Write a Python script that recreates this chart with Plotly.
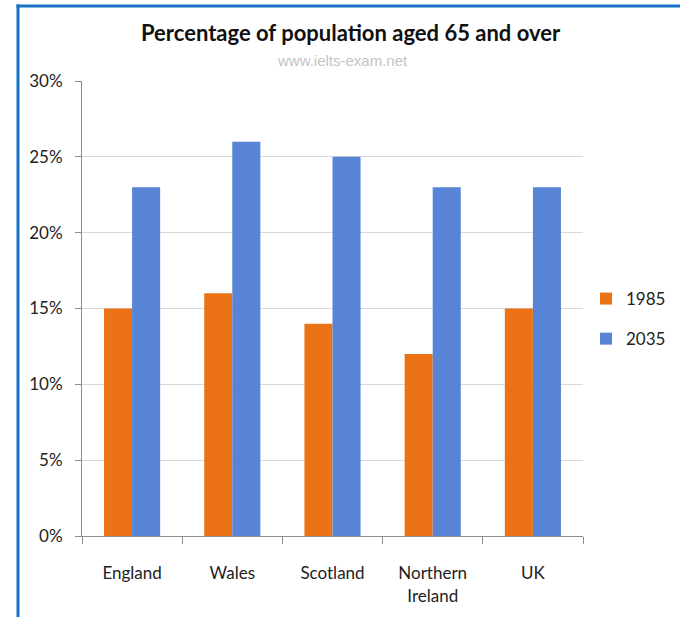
import plotly.graph_objects as go

categories = ["England", "Wales", "Scotland", "Northern<br>Ireland", "UK"]
values_1985 = [15, 16, 14, 12, 15]
values_2035 = [23, 26, 25, 23, 23]
y_ticks = [0, 5, 10, 15, 20, 25, 30]
y_tick_labels = ["0%", "5%", "10%", "15%", "20%", "25%", "30%"]

W, H = 680, 617
L, R, T, B = 82, 97, 81, 81
pw, ph = W - L - R, H - T - B

def px_x(p):
    return (p - L) / pw

def px_y(p):
    return (H - B - p) / ph

font_family = "Lato, 'Open Sans', sans-serif"

fig = go.Figure()
fig.add_trace(go.Bar(x=categories, y=values_1985, name="1985",
                     marker=dict(color="#EC7216", line=dict(width=0)),
                     legendgroup="a"))
fig.add_trace(go.Bar(x=categories, y=values_2035, name="2035",
                     marker=dict(color="#5884D6", line=dict(width=0)),
                     legendgroup="b"))

fig.update_layout(
    width=W, height=H,
    margin=dict(l=L, r=R, t=T, b=B, autoexpand=False),
    paper_bgcolor="white", plot_bgcolor="white",
    bargap=0.44, bargroupgap=0,
    font=dict(family=font_family, size=17, color="#222222"),
    showlegend=True,
    legend=dict(x=px_x(586), y=px_y(281), xanchor="left", yanchor="top",
                font=dict(size=17, color="#222222"),
                traceorder="grouped", tracegroupgap=15,
                itemwidth=30, bgcolor="rgba(0,0,0,0)"),
    xaxis=dict(type="category", showgrid=False, showline=True,
               linecolor="#8c8c8c", linewidth=1,
               ticks="outside", tickson="boundaries", ticklen=7,
               tickcolor="#8c8c8c", ticklabelstandoff=22,
               tickfont=dict(size=17, color="#222222")),
    yaxis=dict(range=[0, 30], tickvals=y_ticks, ticktext=y_tick_labels,
               showgrid=True, gridcolor="#d9d9d9", gridwidth=1,
               showline=True, linecolor="#8c8c8c", linewidth=1,
               ticks="outside", ticklen=6, tickcolor="#8c8c8c",
               ticklabelstandoff=9, zeroline=False,
               tickfont=dict(size=17, color="#222222")),
    annotations=[
        dict(text="<b>Percentage of population aged 65 and over</b>",
             xref="paper", yref="paper", x=px_x(351), y=px_y(33),
             xanchor="center", yanchor="middle", showarrow=False,
             font=dict(size=22, color="#111111", family=font_family)),
        dict(text="www.ielts-exam.net",
             xref="paper", yref="paper", x=px_x(342), y=px_y(61),
             xanchor="center", yanchor="middle", showarrow=False,
             font=dict(size=15, color="#c4c4c4", family="Liberation Sans, Arial, sans-serif")),
    ],
    shapes=[
        dict(type="line", xref="paper", yref="paper",
             x0=px_x(18), x1=px_x(18), y0=px_y(640), y1=px_y(4.5),
             line=dict(color="#1673C8", width=3)),
        dict(type="line", xref="paper", yref="paper",
             x0=px_x(16.5), x1=px_x(710), y0=px_y(6), y1=px_y(6),
             line=dict(color="#1673C8", width=3)),
    ],
)

fig.write_html("out.html")
